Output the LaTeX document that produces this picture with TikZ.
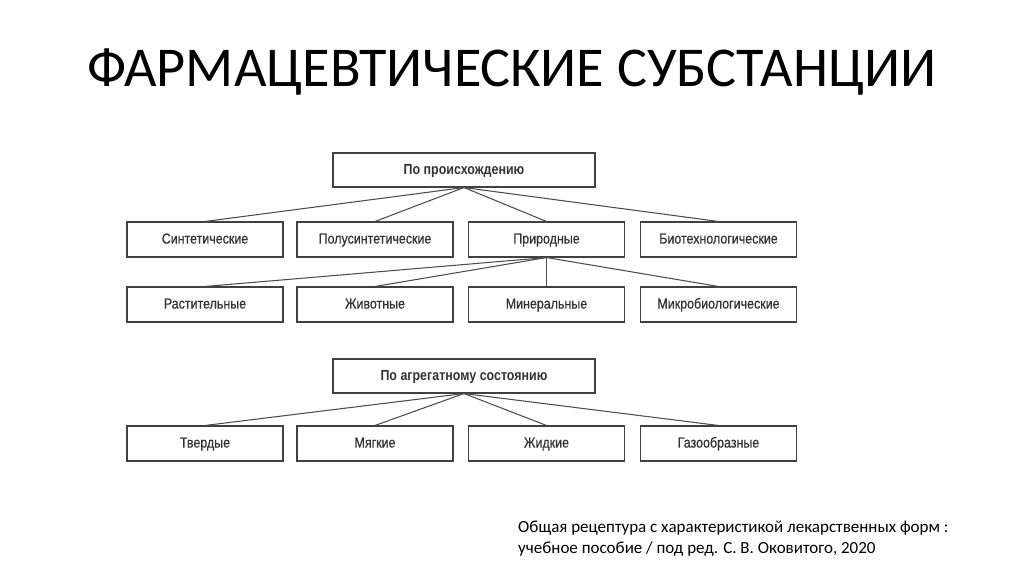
\documentclass[tikz,border=0pt]{standalone}
\usepackage{fontspec}
\setmainfont{Liberation Sans}
\newfontfamily\titlefont{Carlito}
\begin{document}
\begin{tikzpicture}[x=0.03cm,y=-0.03cm,
  bx/.style={draw=black!75,line width=0.9pt,minimum width=156*0.03cm,minimum height=35*0.03cm,inner sep=0pt,text height=9pt,text depth=2pt,font=\fontsize{12.5}{14}\selectfont\addfontfeatures{FakeStretch=0.85,FakeBold=0.6},text=black!80},
  hb/.style={bx,minimum width=262*0.03cm,minimum height=34*0.03cm,font=\fontsize{12.5}{14}\selectfont\bfseries\addfontfeatures{FakeStretch=0.85}},
  ln/.style={draw=black!70,line width=0.9pt}]
\useasboundingbox (0,0) rectangle (1024,574);
\node[font=\titlefont\fontsize{48}{56}\selectfont] (title) at (512,72) {ФАРМАЦЕВТИЧЕСКИЕ СУБСТАНЦИИ};
\node[hb] (o) at (464,170) {По происхождению};
\node[bx] (s1) at (205,239.5) {Синтетические};
\node[bx] (s2) at (375,239.5) {Полусинтетические};
\node[bx] (s3) at (546.5,239.5) {Природные};
\node[bx] (s4) at (718.5,239.5) {Биотехнологические};
\node[bx] (n1) at (205,304.5) {Растительные};
\node[bx] (n2) at (375,304.5) {Животные};
\node[bx] (n3) at (546.5,304.5) {Минеральные};
\node[bx] (n4) at (718.5,304.5) {Микробиологические};
\node[hb] (a) at (464,376) {По агрегатному состоянию};
\node[bx] (a1) at (205,443.5) {Твердые};
\node[bx] (a2) at (375,443.5) {Мягкие};
\node[bx] (a3) at (546.5,443.5) {Жидкие};
\node[bx] (a4) at (718.5,443.5) {Газообразные};
\foreach \c in {s1,s2,s3,s4} \draw[ln] (o.south) -- (\c.north);
\foreach \c in {n1,n2,n3,n4} \draw[ln] (s3.south) -- (\c.north);
\foreach \c in {a1,a2,a3,a4} \draw[ln] (a.south) -- (\c.north);
\node[anchor=north west,align=left,font=\titlefont\fontsize{14.5}{17.5}\selectfont,inner sep=0pt] (cap) at (518,521) {Общая рецептура с характеристикой лекарственных форм :\\учебное пособие / под ред. С. В. Оковитого, 2020};
\end{tikzpicture}
\end{document}
